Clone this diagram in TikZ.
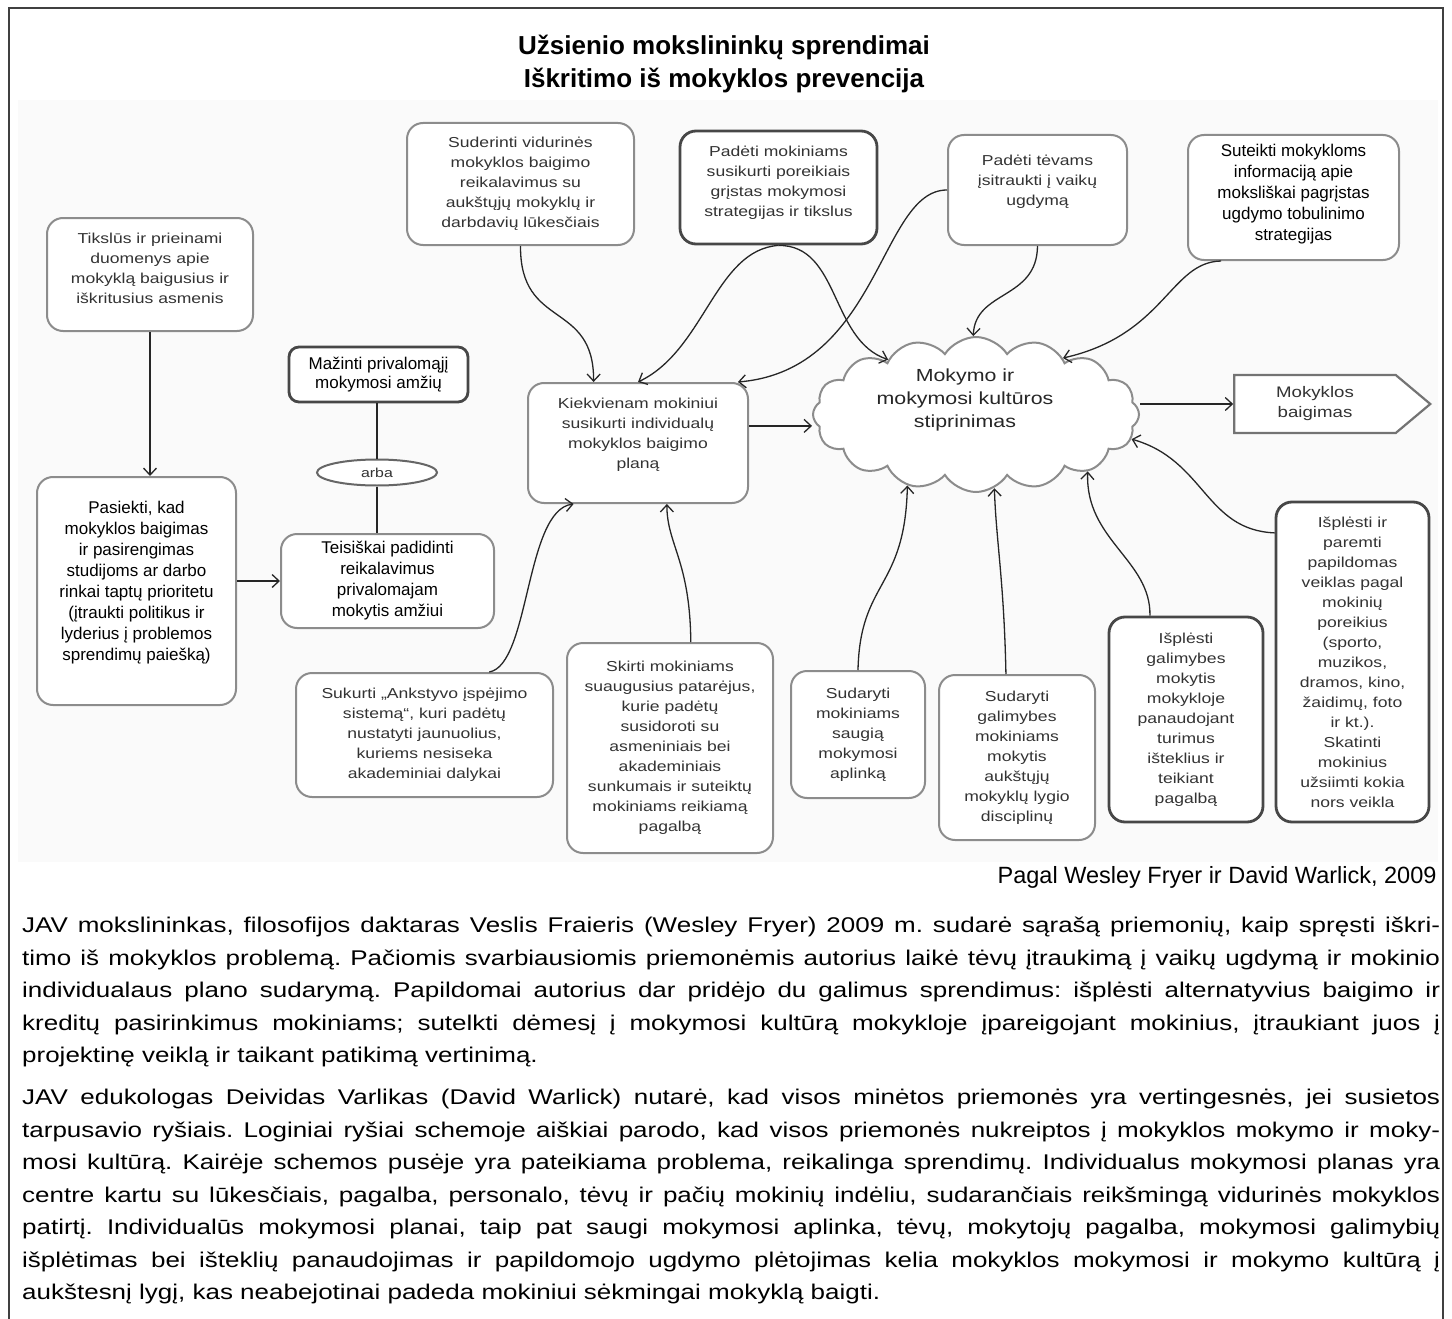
\documentclass[tikz,border=0pt]{standalone}
\usepackage{fontspec}
\setmainfont{Liberation Sans}
\newfontfamily\widefont[FakeStretch=1.22]{Liberation Sans}
\usetikzlibrary{arrows.meta, positioning, shapes.geometric, shapes.symbols, calc}
\frenchspacing

\tikzset{
  gbox/.style={draw=black!45, line width=2pt, rounded corners=16pt, fill=white,
    align=center, text=black!80, inner sep=4pt,
    font=\widefont\fontsize{14.4}{20}\selectfont},
  dbox/.style={gbox, draw=black!72, line width=2.8pt},
  tbox/.style={gbox, text=black, font=\fontsize{17}{21}\selectfont},
  arr/.style={draw=black!85, line width=1.3pt, -{Straight Barb[length=7pt,width=13pt]}},
  link/.style={draw=black!85, line width=1.3pt},
  bodytext/.style={anchor=north west, inner sep=0pt, text width=1418pt, align=justify,
    font=\widefont\fontsize{21.3}{32.5}\selectfont},
}

\begin{document}
\begin{tikzpicture}[x=1pt, y=-1pt]
  \useasboundingbox (0,0) rectangle (1452,1319);

  % Frame and scanned area
  \fill[black!2] (18,100) rectangle (1438,862);
  \draw[black!75, line width=2pt] (9,1319) -- (9,8) -- (1443,8) -- (1443,1319);

  % Title
  \node[anchor=base, font=\bfseries\fontsize{26}{33}\selectfont] (title1) at (724,55)
    {Užsienio mokslininkų sprendimai};
  \node[anchor=base, font=\bfseries\fontsize{26}{33}\selectfont] (title2) at (724,88)
    {Iškritimo iš mokyklos prevencija};

  % Upper boxes
  \node[gbox, minimum width=206pt, minimum height=113pt, text depth=12pt] (tiksl) at (150,274.5)
    {Tikslūs ir prieinami\\duomenys apie\\mokyklą baigusius ir\\iškritusius asmenis};
  \node[gbox, minimum width=227pt, minimum height=122pt] (suder) at (520.5,184)
    {Suderinti vidurinės\\mokyklos baigimo\\reikalavimus su\\aukštųjų mokyklų ir\\darbdavių lūkesčiais};
  \node[dbox, minimum width=197pt, minimum height=113pt, text depth=12pt] (padmok) at (778.5,187.5)
    {Padėti mokiniams\\susikurti poreikiais\\grįstas mokymosi\\strategijas ir tikslus};
  \node[gbox, minimum width=179pt, minimum height=110pt, text depth=20pt] (padtev) at (1037.5,190)
    {Padėti tėvams\\įsitraukti į vaikų\\ugdymą};
  \node[tbox, minimum width=211pt, minimum height=125pt, text depth=11pt] (suteik) at (1293.5,197.5)
    {Suteikti mokykloms\\informaciją apie\\moksliškai pagrįstas\\ugdymo tobulinimo\\strategijas};

  % Left column
  \node[dbox, rounded corners=10pt, text=black, font=\fontsize{17}{19}\selectfont,
    minimum width=179pt, minimum height=55pt] (mazin) at (378.5,374.5)
    {Mažinti privalomąjį\\mokymosi amžių};
  \node[ellipse, draw=black!60, line width=2pt, fill=white, inner sep=0pt,
    minimum width=120pt, minimum height=26pt, text=black!80,
    font=\widefont\fontsize{13}{15}\selectfont] (arba) at (377,472.5) {arba};
  \node[tbox, minimum width=199pt, minimum height=228pt, text depth=20pt] (pasiek) at (136.5,591)
    {Pasiekti, kad\\mokyklos baigimas\\ir pasirengimas\\studijoms ar darbo\\rinkai taptų prioritetu\\(įtraukti politikus ir\\lyderius į problemos\\sprendimų paiešką)};
  \node[tbox, minimum width=213pt, minimum height=94pt] (teis) at (387.5,581)
    {Teisiškai padidinti\\reikalavimus\\privalomajam\\mokytis amžiui};

  % Centre
  \node[gbox, minimum width=220pt, minimum height=120pt, text depth=20pt] (kiekv) at (638,443)
    {Kiekvienam mokiniui\\susikurti individualų\\mokyklos baigimo\\planą};
  \node[cloud, cloud puffs=16, cloud puff arc=115, draw=black!45, line width=2pt, fill=white,
    minimum width=326pt, minimum height=155pt, inner sep=0pt] (kult) at (976,414.5) {};
  \node[align=center, text=black!85, font=\widefont\fontsize{17.5}{23}\selectfont] (kultlbl) at (965,400)
    {Mokymo ir\\mokymosi kultūros\\stiprinimas};
  \node[signal, signal to=east, signal pointer angle=80, draw=black!55, line width=2.2pt,
    fill=white, minimum width=196pt, minimum height=58pt, align=center, text=black!80,
    font=\widefont\fontsize{15.3}{20}\selectfont] (baig) at (1315,404)
    {Mokyklos\\baigimas};

  % Lower boxes
  \node[gbox, minimum width=257pt, minimum height=124pt] (sukur) at (424.5,735)
    {Sukurti „Ankstyvo įspėjimo\\sistemą“, kuri padėtų\\nustatyti jaunuolius,\\kuriems nesiseka\\akademiniai dalykai};
  \node[gbox, minimum width=206pt, minimum height=210pt] (skirt) at (670,748)
    {Skirti mokiniams\\suaugusius patarėjus,\\kurie padėtų\\susidoroti su\\asmeniniais bei\\akademiniais\\sunkumais ir suteiktų\\mokiniams reikiamą\\pagalbą};
  \node[gbox, minimum width=134pt, minimum height=127pt] (saug) at (858,734.5)
    {Sudaryti\\mokiniams\\saugią\\mokymosi\\aplinką};
  \node[gbox, minimum width=156pt, minimum height=165pt] (aukst) at (1017,757.5)
    {Sudaryti\\galimybes\\mokiniams\\mokytis\\aukštųjų\\mokyklų lygio\\disciplinų};
  \node[dbox, minimum width=154pt, minimum height=205pt] (ispgal) at (1186,719.5)
    {Išplėsti\\galimybes\\mokytis\\mokykloje\\panaudojant\\turimus\\išteklius ir\\teikiant\\pagalbą};
  \node[dbox, minimum width=153pt, minimum height=320pt] (isppar) at (1352.5,662)
    {Išplėsti ir\\paremti\\papildomas\\veiklas pagal\\mokinių\\poreikius\\(sporto,\\muzikos,\\dramos, kino,\\žaidimų, foto\\ir kt.).\\Skatinti\\mokinius\\užsiimti kokia\\nors veikla};

  % Left links
  \draw[arr] (tiksl.south) -- (tiksl.south |- pasiek.north);
  \draw[link] (arba.north |- mazin.south) -- (arba.north);
  \draw[link] (arba.south) -- (arba.south |- teis.north);
  \draw[arr] (pasiek.east |- teis.west) -- (teis.west);

  % Into the individual plan
  \draw[arr] (suder.south) .. controls (520,330) and (594,300) .. ($(kiekv.north west)!0.3!(kiekv.north east)$);
  \draw[arr] (padmok.south) .. controls (715,250) and (705,350) .. ($(kiekv.north west)!0.5!(kiekv.north east)$);
  \draw[arr] (padtev.west) .. controls (880,190) and (880,370) .. ($(kiekv.north west)!0.95!(kiekv.north east)$);
  \draw[arr] ($(sukur.north west)!0.75!(sukur.north east)$) .. controls (530,665) and (525,510) .. ($(kiekv.south west)!0.21!(kiekv.south east)$);
  \draw[arr] ($(skirt.north west)!0.6!(skirt.north east)$) .. controls (690,560) and (667,545) .. ($(kiekv.south west)!0.63!(kiekv.south east)$);

  % Into the cloud
  \coordinate (kE) at ($(kiekv.north east)!0.36!(kiekv.south east)$);
  \draw[arr] (kE) -- (kE -| kult.west);
  \draw[arr] (padmok.south) .. controls (840,245) and (830,340) .. (kult.148);
  \draw[arr] (padtev.south) .. controls (1037,300) and (975,290) .. (kult.92);
  \draw[arr] ($(suteik.south west)!0.16!(suteik.south east)$) .. controls (1170,262) and (1165,335) .. (kult.33);
  \draw[arr] (saug.north) .. controls (860,580) and (905,590) .. (kult.226);
  \draw[arr] ($(aukst.north west)!0.43!(aukst.north east)$) .. controls (1004,580) and (996,540) .. (kult.284);
  \draw[arr] ($(ispgal.north west)!0.27!(ispgal.north east)$) .. controls (1151,560) and (1085,540) .. (kult.333);
  \draw[arr] ($(isppar.north west)!0.1!(isppar.south west)$) .. controls (1205,530) and (1205,460) .. (kult.351);
  \draw[arr] (kult.east |- baig.west) -- (baig.west);

  % Source and text below
  \node[anchor=base east, font=\fontsize{23.5}{28}\selectfont] (source) at (1440,883)
    {Pagal Wesley Fryer ir David Warlick, 2009};
  \node[bodytext] (para1) at (22,917)
    {JAV mokslininkas, filosofijos daktaras Veslis Fraieris (Wesley Fryer) 2009 m. sudarė sąrašą priemonių, kaip spręsti iškri-\linebreak
    timo iš mokyklos problemą. Pačiomis svarbiausiomis priemonėmis autorius laikė tėvų įtraukimą į vaikų ugdymą ir mokinio\linebreak
    individualaus plano sudarymą. Papildomai autorius dar pridėjo du galimus sprendimus: išplėsti alternatyvius baigimo ir\linebreak
    kreditų pasirinkimus mokiniams; sutelkti dėmesį į mokymosi kultūrą mokykloje įpareigojant mokinius, įtraukiant juos į\linebreak
    projektinę veiklą ir taikant patikimą vertinimą.};
  \node[bodytext] (para2) at (22,1089)
    {JAV edukologas Deividas Varlikas (David Warlick) nutarė, kad visos minėtos priemonės yra vertingesnės, jei susietos\linebreak
    tarpusavio ryšiais. Loginiai ryšiai schemoje aiškiai parodo, kad visos priemonės nukreiptos į mokyklos mokymo ir moky-\linebreak
    mosi kultūrą. Kairėje schemos pusėje yra pateikiama problema, reikalinga sprendimų. Individualus mokymosi planas yra\linebreak
    centre kartu su lūkesčiais, pagalba, personalo, tėvų ir pačių mokinių indėliu, sudarančiais reikšmingą vidurinės mokyklos\linebreak
    patirtį. Individualūs mokymosi planai, taip pat saugi mokymosi aplinka, tėvų, mokytojų pagalba, mokymosi galimybių\linebreak
    išplėtimas bei išteklių panaudojimas ir papildomojo ugdymo plėtojimas kelia mokyklos mokymosi ir mokymo kultūrą į\linebreak
    aukštesnį lygį, kas neabejotinai padeda mokiniui sėkmingai mokyklą baigti.};
\end{tikzpicture}
\end{document}
